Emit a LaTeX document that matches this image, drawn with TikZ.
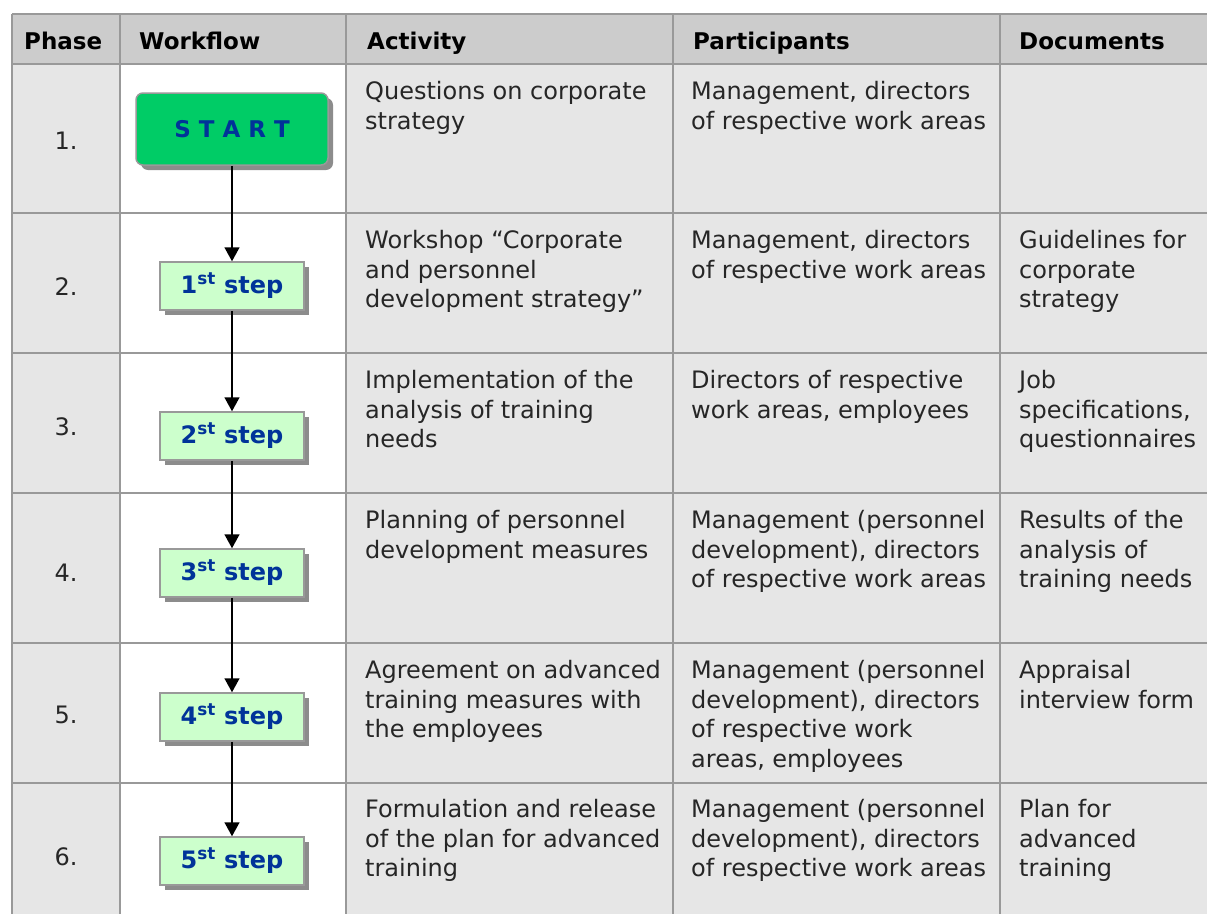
\documentclass[tikz,border=0pt]{standalone}
\usepackage{fontspec}
\setmainfont{DejaVu Sans}
\usetikzlibrary{arrows.meta, shadows}

\definecolor{gridgray}{HTML}{999999}
\definecolor{headgray}{HTML}{CCCCCC}
\definecolor{cellgray}{HTML}{E6E6E6}
\definecolor{startgreen}{HTML}{00CC66}
\definecolor{steplight}{HTML}{CCFFCC}
\definecolor{stepblue}{HTML}{003399}

\tikzset{
    headtext/.style={anchor=base west, inner sep=0pt, font=\fontsize{23}{28}\selectfont\bfseries},
    celltext/.style={anchor=north west, inner sep=0pt, align=left, text=black!85,
        font=\fontsize{24}{29.5}\selectfont},
    phasenum/.style={inner sep=0pt, text=black!85, font=\fontsize{24}{29.5}\selectfont},
    stepbox/.style={draw=gridgray, fill=steplight, line width=1.5pt, inner sep=0pt,
        minimum width=144pt, minimum height=48pt, text=stepblue,
        font=\fontsize{24}{28}\selectfont\bfseries,
        drop shadow={shadow xshift=5pt, shadow yshift=-5pt, fill=black!45, opacity=1}},
    startbox/.style={stepbox, fill=startgreen, rounded corners=7pt,
        minimum width=192pt, minimum height=72pt, font=\fontsize{23}{28}\selectfont\bfseries},
    flow/.style={-{Triangle[length=14pt, width=15pt]}, line width=1.5pt}
}

\begin{document}
\begin{tikzpicture}[x=1pt, y=-1pt]
    \useasboundingbox (0,0) rectangle (1207,913);
    \clip (0,0) rectangle (1207,913);

    % Table background and grid
    \fill[headgray] (12,14) rectangle (1220,64);
    \fill[cellgray] (12,64) rectangle (1220,930);
    \fill[white] (120,64) rectangle (346,930);
    \foreach \x in {12, 120, 346, 673, 1000} {
        \draw[gridgray, line width=2pt] (\x,14) -- (\x,930);
    }
    \foreach \y in {14, 64, 213, 353, 493, 643, 783} {
        \draw[gridgray, line width=2pt] (12,\y) -- (1220,\y);
    }

    % Header
    \node[headtext] (hphase) at (24,49) {Phase};
    \node[headtext] (hflow) at (139,49) {Workflow};
    \node[headtext] (hact) at (367,49) {Activity};
    \node[headtext] (hpart) at (693,49) {Participants};
    \node[headtext] (hdoc) at (1019,49) {Documents};

    % Phase numbers
    \foreach \n/\y in {1/141, 2/287, 3/427, 4/573, 5/715, 6/857} {
        \node[phasenum] (phase\n) at (66,\y) {\n.};
    }

    % Workflow
    \node[startbox] (start) at (232,129) {S T A R T};
    \node[stepbox] (step1) at (232,286) {1\textsuperscript{st} step};
    \node[stepbox] (step2) at (232,436) {2\textsuperscript{st} step};
    \node[stepbox] (step3) at (232,573) {3\textsuperscript{st} step};
    \node[stepbox] (step4) at (232,717) {4\textsuperscript{st} step};
    \node[stepbox] (step5) at (232,861) {5\textsuperscript{st} step};
    \foreach \a/\b in {start/step1, step1/step2, step2/step3, step3/step4, step4/step5} {
        \draw[flow] (\a.south) -- (\b.north);
    }

    % Activity
    \node[celltext] (act1) at (365,79) {\strut Questions on corporate\\strategy};
    \node[celltext] (act2) at (365,228) {\strut Workshop “Corporate\\and personnel\\development strategy”};
    \node[celltext] (act3) at (365,368) {\strut Implementation of the\\analysis of training\\needs};
    \node[celltext] (act4) at (365,508) {\strut Planning of personnel\\development measures};
    \node[celltext] (act5) at (365,658) {\strut Agreement on advanced\\training measures with\\the employees};
    \node[celltext] (act6) at (365,797) {\strut Formulation and release\\of the plan for advanced\\training};

    % Participants
    \node[celltext] (part1) at (691,79) {\strut Management, directors\\of respective work areas};
    \node[celltext] (part2) at (691,228) {\strut Management, directors\\of respective work areas};
    \node[celltext] (part3) at (691,368) {\strut Directors of respective\\work areas, employees};
    \node[celltext] (part4) at (691,508) {\strut Management (personnel\\development), directors\\of respective work areas};
    \node[celltext] (part5) at (691,658) {\strut Management (personnel\\development), directors\\of respective work\\areas, employees};
    \node[celltext] (part6) at (691,797) {\strut Management (personnel\\development), directors\\of respective work areas};

    % Documents
    \node[celltext] (doc2) at (1019,228) {\strut Guidelines for\\corporate\\strategy};
    \node[celltext] (doc3) at (1019,368) {\strut Job\\specifications,\\questionnaires};
    \node[celltext] (doc4) at (1019,508) {\strut Results of the\\analysis of\\training needs};
    \node[celltext] (doc5) at (1019,658) {\strut Appraisal\\interview form};
    \node[celltext] (doc6) at (1019,797) {\strut Plan for\\advanced\\training};
\end{tikzpicture}
\end{document}
